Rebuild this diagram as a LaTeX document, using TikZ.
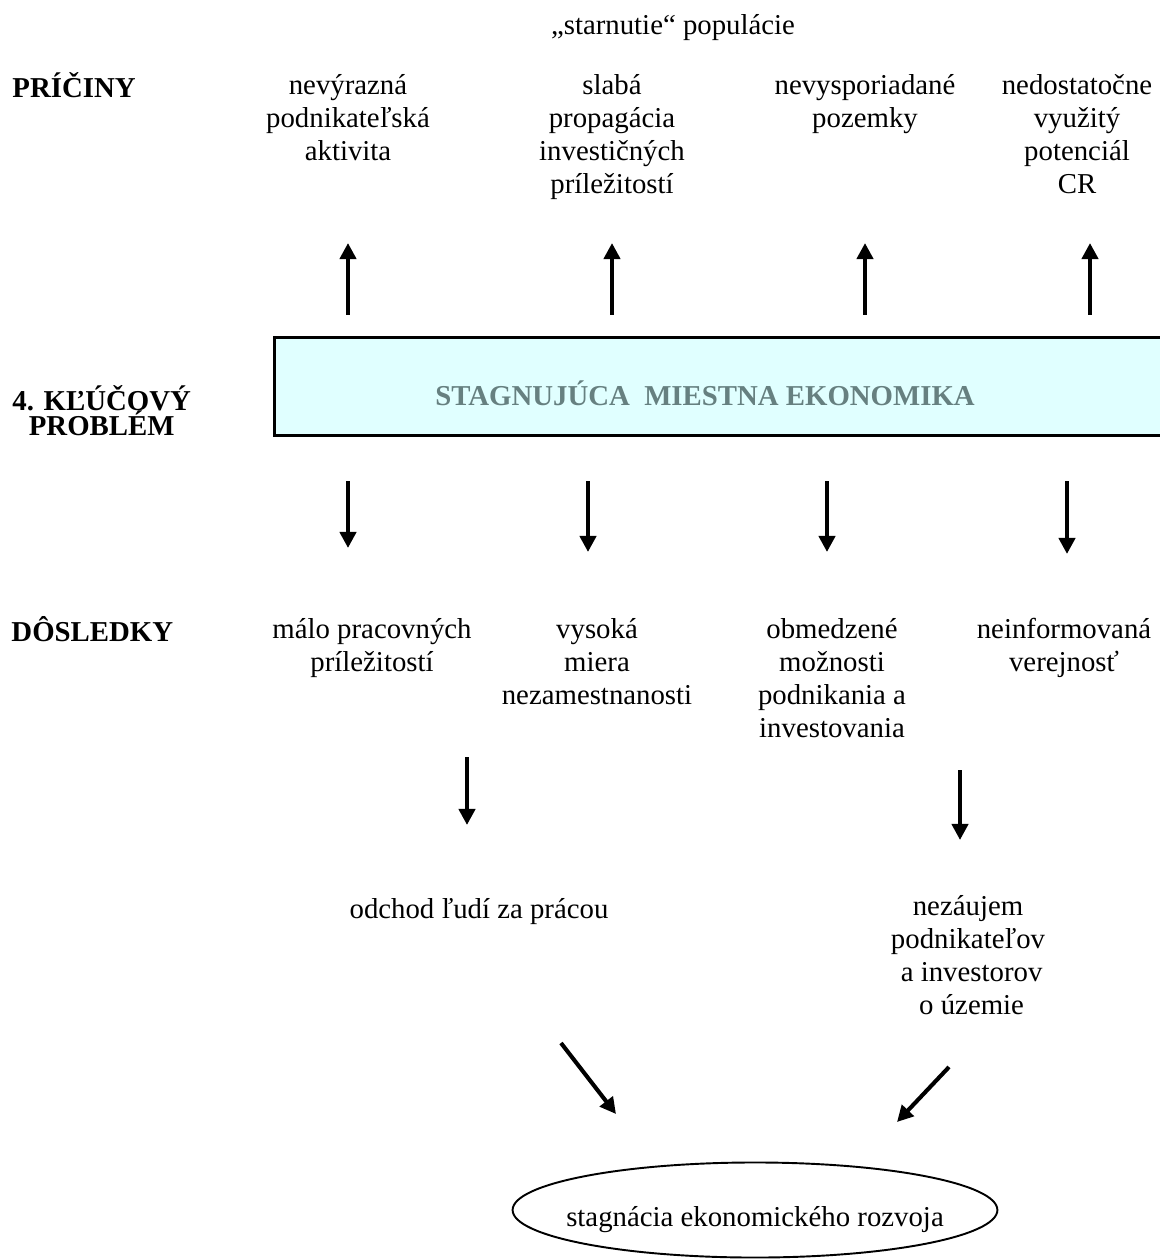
\documentclass[tikz,border=0pt]{standalone}
\usepackage{fontspec}
\setmainfont{Liberation Serif}
\usetikzlibrary{arrows.meta,shapes.geometric}
\definecolor{boxfill}{RGB}{224,255,255}
\definecolor{boxtext}{RGB}{102,128,128}
\lineskiplimit=-\maxdimen
\tikzset{
  txt/.style={inner sep=0pt, font=\fontsize{12}{13.7}\selectfont},
  col/.style={txt, align=center, anchor=north, execute at begin node=\strut},
  head/.style={txt, font=\fontsize{12}{13.7}\selectfont\bfseries, anchor=base west},
  sidehead/.style={inner sep=0pt, font=\fontsize{12}{10.6}\selectfont\bfseries, align=center, anchor=north west, execute at begin node=\strut},
  keybox/.style={fill=boxfill, minimum width=373pt, minimum height=40.4pt, inner sep=0pt},
  boxline/.style={line width=1.2pt},
  probtxt/.style={txt, font=\fontsize{12}{13.7}\selectfont\bfseries, text=boxtext, anchor=base},
  goal/.style={draw, ellipse, line width=0.8pt, minimum width=202pt, minimum height=39.6pt, inner sep=0pt},
  arr/.style={line width=1.7pt, -{Triangle[width=6.7pt,length=6.7pt]}},
}
\begin{document}
\begin{tikzpicture}[x=0.41667pt, y=-0.41667pt]
  \useasboundingbox (0,0) rectangle (1159,1259);

  %%%%% PRICINY %%%%%
  \node[txt, anchor=base] (aging) at (673,35) {„starnutie“ populácie};
  \node[head] (causes) at (12,97) {PRÍČINY};
  \node[col] (c1) at (348,74) {nevýrazná\\podnikateľská\\aktivita};
  \node[col] (c2) at (612,74) {slabá\\propagácia\\investičných\\príležitostí};
  \node[col] (c3) at (865,74) {nevysporiadané\\pozemky};
  \node[col] (c4) at (1077,74) {nedostatočne\\využitý\\potenciál\\CR};

  %%%%% KLUCOVY PROBLEM %%%%%
  \node[keybox] (box) at (722.5,386.5) {};
  \draw[boxline] (box.north east) -- (box.north west) -- (box.south west) -- (box.south east);
  \node[probtxt] (ptxt) at (705,405) {STAGNUJÚCA\ \ MIESTNA EKONOMIKA};
  \node[sidehead] (key) at (12,385) {4. KĽÚČOVÝ\\PROBLÉM};

  \foreach \n/\x in {1/348,2/612,3/865,4/1090}{
    \coordinate (up\n) at (\x,243);
    \draw[arr, shorten <=9.6pt] (box.north -| up\n) -- (up\n);
  }
  \foreach \n/\x/\y in {1/348/548,2/588/552,3/827/552,4/1067/554}{
    \coordinate (dn\n) at (\x,\y);
    \draw[arr, shorten <=19pt] (box.south -| dn\n) -- (dn\n);
  }

  %%%%% DOSLEDKY %%%%%
  \node[head] (effects) at (11,641) {DÔSLEDKY};
  \node[col] (e1) at (372,618) {málo pracovných\\príležitostí};
  \node[col] (e2) at (597,618) {vysoká\\miera\\nezamestnanosti};
  \node[col] (e3) at (832,618) {obmedzené\\možnosti\\podnikania a\\investovania};
  \node[col] (e4) at (1064,618) {neinformovaná\\verejnosť};

  \coordinate (drop1a) at (467,757);
  \coordinate (drop1b) at (467,825);
  \coordinate (drop2a) at (960,770);
  \coordinate (drop2b) at (960,840);
  \draw[arr] (drop1a) -- (drop1b);
  \draw[arr] (drop2a) -- (drop2b);

  \node[txt, anchor=base] (f1) at (479,918) {odchod ľudí za prácou};
  \node[col] (f2) at (968,895) {nezáujem\\podnikateľov\\\ a investorov\\\ o územie};

  %%%%% STAGNACIA %%%%%
  \node[goal] (goal) at (755,1210) {};
  \node[txt, anchor=base] (goaltxt) at (755,1226) {stagnácia ekonomického rozvoja};

  \coordinate (in1a) at (561,1043);
  \coordinate (in1b) at (616,1114);
  \coordinate (in2a) at (949,1067);
  \coordinate (in2b) at (897,1122);
  \draw[arr] (in1a) -- (in1b);
  \draw[arr] (in2a) -- (in2b);
\end{tikzpicture}
\end{document}
